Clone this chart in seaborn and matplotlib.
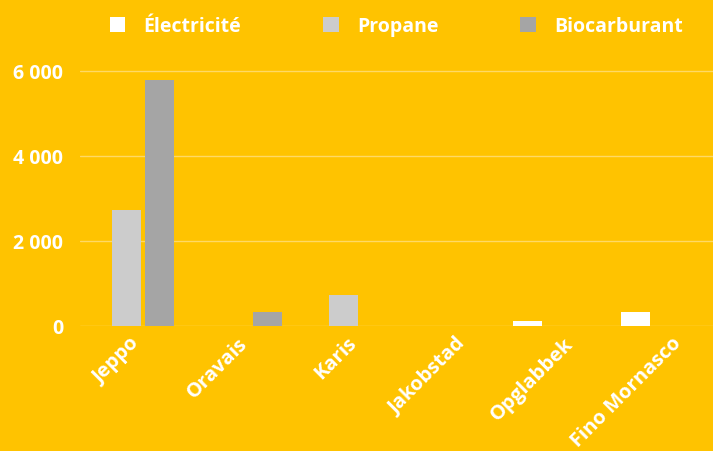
import numpy as np
import pandas as pd
import seaborn as sns
import matplotlib.pyplot as plt
import matplotlib.transforms as mtrans
from matplotlib.ticker import FuncFormatter

villes = ["Jeppo", "Oravais", "Karis", "Jakobstad", "Opglabbek", "Fino Mornasco"]
electricite = [0, 0, 0, 0, 120, 330]
propane = [2730, 0, 730, 0, 0, 0]
biocarburant = [5790, 330, 0, 0, 0, 0]
energies = ["Électricité", "Propane", "Biocarburant"]
couleurs = ["#FFFFFF", "#CCCCCC", "#A5A5A5"]
yticks = [0, 2000, 4000, 6000]

fond = "#FFC300"

df = pd.DataFrame({
    "ville": villes * 3,
    "energie": [energies[0]] * 6 + [energies[1]] * 6 + [energies[2]] * 6,
    "valeur": electricite + propane + biocarburant,
})

sns.set_style("white")
plt.rcParams['font.family'] = ['Open Sans', 'DejaVu Sans']

fig = plt.figure(figsize=(7.13, 4.52), dpi=100, facecolor=fond)
ax = fig.add_axes([80 / 713, 1 - 327 / 452, 1 - 80 / 713, (327 - 59) / 452])
ax.set_facecolor(fond)

sns.barplot(data=df, x="ville", y="valeur", hue="energie", order=villes,
            hue_order=energies, palette=couleurs, saturation=1,
            width=0.91, gap=0.12, linewidth=0, errorbar=None, ax=ax)

ax.set_xlim(-0.43, 5.41)
ax.set_ylim(0, 6300)
ax.set_yticks(yticks)
ax.yaxis.set_major_formatter(FuncFormatter(lambda v, p: f"{int(v):,}".replace(",", " ")))
ax.grid(axis="y", color="#FFD966", linewidth=1)
ax.set_axisbelow(True)
for s in ax.spines.values():
    s.set_visible(False)
ax.set_xlabel("")
ax.set_ylabel("")
ax.tick_params(axis="y", length=0, pad=12, labelsize=14, labelcolor="white")
ax.tick_params(axis="x", length=0, pad=10, labelsize=14.5, labelcolor="white")
for t in ax.get_yticklabels():
    t.set_fontweight("bold")
decal = mtrans.ScaledTranslation(10 / 100, 0, fig.dpi_scale_trans)
for t in ax.get_xticklabels():
    t.set_fontweight("bold")
    t.set_rotation(45)
    t.set_ha("right")
    t.set_rotation_mode("anchor")
    t.set_va("center")
    t.set_transform(t.get_transform() + decal)

handles, labels = ax.get_legend_handles_labels()
ax.get_legend().remove()
leg = fig.legend(handles, labels, loc="center", bbox_to_anchor=(0.556, 1 - 27 / 452),
                 ncol=3, frameon=False, handlelength=0.8,
                 handleheight=0.8, handletextpad=0.95, columnspacing=4.2,
                 prop={"weight": "bold", "size": 14})
for t in leg.get_texts():
    t.set_color("white")

fig.savefig("out.png", dpi=100, facecolor=fond)
